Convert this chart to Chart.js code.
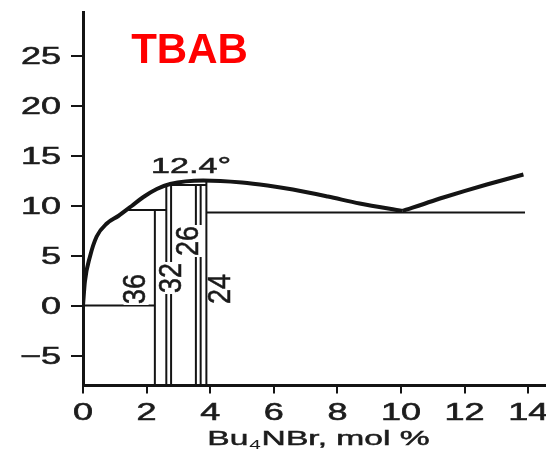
<!DOCTYPE html>
<html>
<head>
<meta charset="utf-8">
<script src="https://cdn.jsdelivr.net/npm/chart.js@4.4.1/dist/chart.umd.min.js"></script>
<style>
  html, body { margin: 0; padding: 0; background: #fff; }
  canvas { display: block; }
</style>
</head>
<body>
<canvas id="c" width="546" height="458"></canvas>
<script>
// Bu4NBr – H2O phase diagram (temperature, °C vs. mol %)

// Liquidus, water-rich side up to the eutectic
const liquidusLeftX = [0, 0.06, 0.22, 0.43, 0.75, 1.11, 1.53, 1.9, 2.32, 2.74, 3.78, 5.0, 5.8, 6.6, 7.7, 8.7, 10.05];
const liquidusLeftY = [0, 2.4, 4.9, 6.9, 8.2, 8.95, 9.95, 10.85, 11.65, 12.15, 12.5, 12.3, 12.0, 11.6, 10.9, 10.2, 9.45];
// Liquidus beyond the eutectic
const liquidusRightX = [10.05, 11.33, 12.7, 13.85];
const liquidusRightY = [9.45, 10.8, 12.1, 13.1];

// Hydrates (hydration numbers), their compositions and upper temperatures
const hydrateNumbers = ['36', '32', '26', '24'];
const hydrateComp    = [2.26, 2.62, 3.55, 3.88];
const hydrateTwin    = [null, 2.77, 3.70, null];
const hydrateTop     = [9.55, 12.05, 12.05, 12.5];
const hydrateLabelX  = [1.67, 2.81, 3.36, 4.34];
const hydrateLabelY  = [1.65, 2.75, 6.45, 1.65];

// Horizontal (invariant) lines
const tieFromX = [0, 1.42, 2.62, 3.88];
const tieToX   = [2.26, 2.62, 3.88, 13.9];
const tieT     = [0, 9.55, 12.05, 9.3];

// Axis ticks
const xTickValues = [0, 2, 4, 6, 8, 10, 12, 14];
const yTickValues = [-5, 0, 5, 10, 15, 20, 25];

const X_MIN = 0, X_MAX = 14.56, Y_MIN = -8, Y_MAX = 29.35;
const INK = '#141414';

const seg = (x1, y1, x2, y2, w) => ({
  data: [{ x: x1, y: y1 }, { x: x2, y: y2 }],
  showLine: true, borderColor: INK, borderWidth: w, pointRadius: 0, tension: 0
});

const datasets = [];
datasets.push({
  data: liquidusLeftX.map((x, i) => ({ x, y: liquidusLeftY[i] })),
  showLine: true, borderColor: INK, borderWidth: 4, pointRadius: 0,
  cubicInterpolationMode: 'monotone'
});
datasets.push({
  data: liquidusRightX.map((x, i) => ({ x, y: liquidusRightY[i] })),
  showLine: true, borderColor: INK, borderWidth: 4, pointRadius: 0, tension: 0.2
});
hydrateComp.forEach((x, i) => {
  datasets.push(seg(x, Y_MIN, x, hydrateTop[i], 2));
  if (hydrateTwin[i] !== null) datasets.push(seg(hydrateTwin[i], Y_MIN, hydrateTwin[i], hydrateTop[i], 2));
});
tieT.forEach((t, i) => datasets.push(seg(tieFromX[i], t, tieToX[i], t, 2)));

const FONT = '"Liberation Sans", Arial, sans-serif';

function drawText(ctx, str, x, y, opt) {
  ctx.save();
  ctx.translate(x, y);
  if (opt.rot) ctx.rotate(opt.rot);
  ctx.scale(opt.sx || 1, opt.sy || 1);
  ctx.font = opt.font;
  ctx.textAlign = opt.align || 'center';
  ctx.textBaseline = opt.baseline || 'alphabetic';
  if (opt.bg) {
    const w = ctx.measureText(str).width;
    const h = opt.bgH;
    ctx.fillStyle = '#fff';
    ctx.fillRect(-w / 2 - 1, -h / 2, w + 2, h);
  }
  ctx.fillStyle = opt.color || INK;
  ctx.fillText(str, 0, 0);
  if (opt.stroke) {
    ctx.strokeStyle = opt.color || INK;
    ctx.lineWidth = opt.stroke;
    ctx.strokeText(str, 0, 0);
  }
  ctx.restore();
}

const labelsPlugin = {
  id: 'labels',
  afterDraw(chart) {
    const ctx = chart.ctx;
    const xs = chart.scales.x, ys = chart.scales.y;
    const area = chart.chartArea;

    // tick labels
    xs.ticks.forEach(t => {
      drawText(ctx, String(t.value), xs.getPixelForValue(t.value), area.bottom + 34.5,
        { font: '24px ' + FONT, sx: 1.5, align: 'center', color: '#1c1c1c', stroke: 0.6 });
    });
    ys.ticks.forEach(t => {
      const s = t.value < 0 ? '\u2212' + Math.abs(t.value) : String(t.value);
      drawText(ctx, s, 61, ys.getPixelForValue(t.value) + 8.5,
        { font: '24px ' + FONT, sx: 1.5, align: 'right', color: '#1c1c1c', stroke: 0.6 });
    });

    // axis title with subscript
    ctx.save();
    const cx = (area.left + area.right) / 2 + 4, by = 445;
    const sx = 1.6;
    ctx.font = '21px ' + FONT;
    const w1 = ctx.measureText('Bu').width;
    const w3 = ctx.measureText('NBr, mol %').width;
    ctx.font = '13px ' + FONT;
    const w2 = ctx.measureText('4').width + 1;
    const total = (w1 + w2 + w3) * sx;
    ctx.translate(cx - total / 2, by);
    ctx.scale(sx, 1);
    ctx.fillStyle = '#1c1c1c';
    ctx.strokeStyle = '#1c1c1c';
    ctx.lineWidth = 0.5;
    ctx.textAlign = 'left';
    ctx.textBaseline = 'alphabetic';
    ctx.font = '21px ' + FONT;
    ctx.fillText('Bu', 0, 0);
    ctx.strokeText('Bu', 0, 0);
    ctx.font = '13px ' + FONT;
    ctx.fillText('4', w1 + 0.5, 4);
    ctx.font = '21px ' + FONT;
    ctx.fillText('NBr, mol %', w1 + w2, 0);
    ctx.strokeText('NBr, mol %', w1 + w2, 0);
    ctx.restore();

    // congruent melting point
    drawText(ctx, '12.4\u00B0', xs.getPixelForValue(3.4), ys.getPixelForValue(13.25),
      { font: '22px ' + FONT, sx: 1.55, align: 'center', color: '#1c1c1c', stroke: 0.5 });

    // hydrate numbers, vertical
    hydrateNumbers.forEach((n, i) => {
      drawText(ctx, n, xs.getPixelForValue(hydrateLabelX[i]), ys.getPixelForValue(hydrateLabelY[i]),
        { font: '27px ' + FONT, rot: -Math.PI / 2, sy: 1.14, align: 'center', baseline: 'middle',
          bg: true, bgH: 22, color: '#1a1a1a', stroke: 0.5 });
    });

    // title
    drawText(ctx, 'TBAB', xs.getPixelForValue(3.35), ys.getPixelForValue(24.25),
      { font: 'bold 42px ' + FONT, align: 'center', color: '#ff0000' });
  }
};

new Chart(document.getElementById('c'), {
  type: 'scatter',
  data: { datasets },
  options: {
    responsive: false,
    animation: false,
    devicePixelRatio: 1,
    layout: { padding: { top: 12, left: 0, right: 0, bottom: 0 } },
    plugins: { legend: { display: false }, tooltip: { enabled: false } },
    scales: {
      x: {
        type: 'linear', min: X_MIN, max: X_MAX,
        afterBuildTicks: s => { s.ticks = xTickValues.map(v => ({ value: v })); },
        afterFit: s => { s.height = 72.5; },
        ticks: { display: false },
        grid: { drawOnChartArea: false, drawTicks: true, tickLength: 8, lineWidth: 2, color: INK },
        border: { display: true, width: 3, color: INK }
      },
      y: {
        type: 'linear', min: Y_MIN, max: Y_MAX,
        afterBuildTicks: s => { s.ticks = yTickValues.map(v => ({ value: v })); },
        afterFit: s => { s.width = 83; },
        ticks: { display: false },
        grid: { drawOnChartArea: false, drawTicks: true, tickLength: 12, lineWidth: 2, color: INK },
        border: { display: true, width: 3, color: INK }
      }
    }
  },
  plugins: [labelsPlugin]
});
</script>
</body>
</html>
